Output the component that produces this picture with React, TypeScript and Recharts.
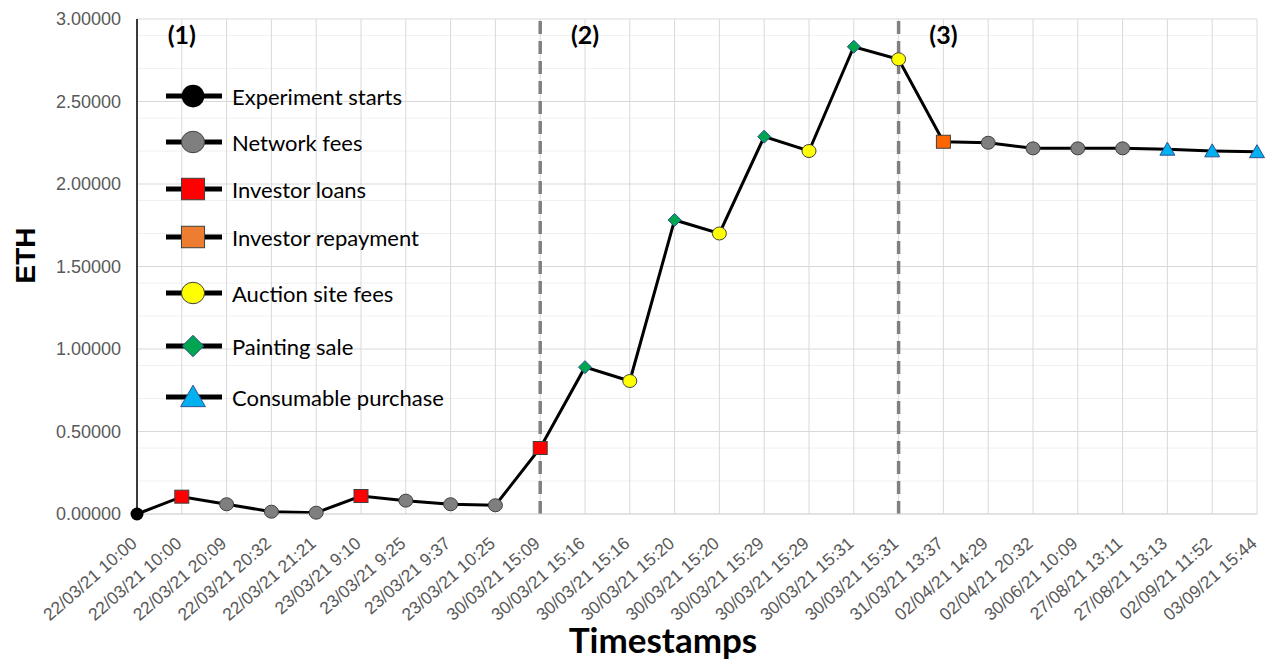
import {
  CartesianGrid,
  Legend,
  Line,
  LineChart,
  ReferenceDot,
  ReferenceLine,
  XAxis,
  YAxis,
} from "recharts";

const timestamps = [
  "22/03/21 10:00",
  "22/03/21 10:00",
  "22/03/21 20:09",
  "22/03/21 20:32",
  "22/03/21 21:21",
  "23/03/21 9:10",
  "23/03/21 9:25",
  "23/03/21 9:37",
  "23/03/21 10:25",
  "30/03/21 15:09",
  "30/03/21 15:16",
  "30/03/21 15:16",
  "30/03/21 15:20",
  "30/03/21 15:20",
  "30/03/21 15:29",
  "30/03/21 15:29",
  "30/03/21 15:31",
  "30/03/21 15:31",
  "31/03/21 13:37",
  "02/04/21 14:29",
  "02/04/21 20:32",
  "30/06/21 10:09",
  "27/08/21 13:11",
  "27/08/21 13:13",
  "02/09/21 11:52",
  "03/09/21 15:44",
];

const ethBalance = [
  0, 0.105, 0.059, 0.014, 0.008, 0.109, 0.081, 0.059, 0.053, 0.4, 0.89, 0.806,
  1.782, 1.7, 2.287, 2.2, 2.832, 2.756, 2.256, 2.25, 2.216, 2.216, 2.216, 2.21,
  2.2, 2.195,
];

const eventTypes = [
  "start", "loan", "fee", "fee", "fee", "loan", "fee", "fee", "fee", "loan",
  "sale", "auction", "sale", "auction", "sale", "auction", "sale", "auction",
  "repay", "fee", "fee", "fee", "fee", "consume", "consume", "consume",
];

const legendItems = [
  { key: "start", label: "Experiment starts" },
  { key: "fee", label: "Network fees" },
  { key: "loan", label: "Investor loans" },
  { key: "repay", label: "Investor repayment" },
  { key: "auction", label: "Auction site fees" },
  { key: "sale", label: "Painting sale" },
  { key: "consume", label: "Consumable purchase" },
];

const phaseBoundaries = [9, 17];
const phaseLabels = [
  { idx: 1, text: "(1)" },
  { idx: 10, text: "(2)" },
  { idx: 18, text: "(3)" },
];

const yTicks = [0, 0.5, 1, 1.5, 2, 2.5, 3];
const yMinor = [0.1, 0.2, 0.3, 0.4, 0.6, 0.7, 0.8, 0.9, 1.1, 1.2, 1.3, 1.4, 1.6, 1.7, 1.8, 1.9, 2.1, 2.2, 2.3, 2.4, 2.6, 2.7, 2.8, 2.9];

const data = ethBalance.map((v, i) => ({ idx: i, eth: v, type: eventTypes[i] }));
const xTicks = timestamps.map((_, i) => i);

const LABEL_FONT = "Lato, 'Open Sans', sans-serif";
const AXIS_FONT = "'Liberation Sans', Arial, sans-serif";
const EDGE = "#404040";
// vertical centre of each legend row (px from chart top)
const LEGEND_ROW_Y = [96, 142, 189, 237, 293, 346, 397];

// s = 1 for plot markers, bigger for the legend
function Marker({ type, cx, cy, s }: { type: string; cx: number; cy: number; s: number }) {
  switch (type) {
    case "start":
      return <circle cx={cx} cy={cy} r={6.5 * s} fill="#000" />;
    case "fee":
      return <ellipse cx={cx} cy={cy} rx={7 * s} ry={6.5 * s} fill="#7f7f7f" stroke={EDGE} strokeWidth={1} />;
    case "auction":
      return <ellipse cx={cx} cy={cy} rx={7 * s} ry={6.5 * s} fill="#ffff00" stroke={EDGE} strokeWidth={1} />;
    case "loan":
      return <rect x={cx - 7 * s} y={cy - 6.5 * s} width={14 * s} height={13 * s} fill="#ff0000" stroke={EDGE} strokeWidth={1} />;
    case "repay":
      return (
        <rect
          x={cx - 7 * s}
          y={cy - 6.5 * s}
          width={14 * s}
          height={13 * s}
          fill={s > 1 ? "#ed7d31" : "#ff6600"}
          stroke={EDGE}
          strokeWidth={1}
        />
      );
    case "sale": {
      const r = 6.5 * s;
      return (
        <polygon
          points={`${cx},${cy - r} ${cx + r},${cy} ${cx},${cy + r} ${cx - r},${cy}`}
          fill="#00a550"
          stroke="#2f528f"
          strokeWidth={1}
        />
      );
    }
    case "consume": {
      const w = 7.5 * s;
      const h = 13 * s;
      return (
        <polygon
          points={`${cx},${cy - h * 0.55} ${cx + w},${cy + h * 0.45} ${cx - w},${cy + h * 0.45}`}
          fill="#00b0f0"
          stroke="#2f528f"
          strokeWidth={1}
        />
      );
    }
    default:
      return null;
  }
}

function renderDot(props: any) {
  const { cx, cy, index, payload } = props;
  return (
    <g key={`dot-${index}`}>
      <Marker type={payload.type} cx={cx} cy={cy} s={1} />
    </g>
  );
}

function XTick(props: any) {
  const { x, y, payload } = props;
  const label = timestamps[payload.value] ?? "";
  return (
    <g transform={`translate(${x + 1},${y + 23})`}>
      <text
        transform="rotate(-41)"
        textAnchor="end"
        fontSize={17.5}
        fontFamily={AXIS_FONT}
        fill="#595959"
      >
        {label}
      </text>
    </g>
  );
}

function renderLegend() {
  return (
    <div style={{ position: "relative", fontFamily: LABEL_FONT, width: 320, height: 420 }}>
      {legendItems.map((item, i) => (
        <div
          key={item.key}
          style={{
            position: "absolute",
            left: 0,
            top: LEGEND_ROW_Y[i] - 15,
            height: 30,
            display: "flex",
            alignItems: "center",
          }}
        >
          <svg width={56} height={30} style={{ display: "block" }}>
            <line x1={0} y1={15} x2={56} y2={15} stroke="#000" strokeWidth={5} />
            <Marker type={item.key} cx={27} cy={15} s={item.key === "start" ? 1.75 : 1.65} />
          </svg>
          <span style={{ marginLeft: 10, fontSize: 22, color: "#000", whiteSpace: "nowrap" }}>
            {item.label}
          </span>
        </div>
      ))}
    </div>
  );
}

export default function App() {
  return (
    <div style={{ position: "absolute", left: 0, top: 0, width: 1270, height: 664, background: "#fff" }}>
      <LineChart width={1270} height={664} data={data} margin={{ top: 19, right: 13, left: 0, bottom: 0 }}>
        <CartesianGrid horizontalValues={yMinor} vertical={false} stroke="#f0f0f0" strokeWidth={1} />
        <CartesianGrid stroke="#d9d9d9" strokeWidth={1} />
        <XAxis
          dataKey="idx"
          type="number"
          domain={[0, 25]}
          ticks={xTicks}
          interval={0}
          height={150}
          tick={<XTick />}
          tickLine={false}
          axisLine={{ stroke: "#d9d9d9" }}
          label={{
            content: (p: any) => {
              const vb = p.viewBox;
              return (
                <text
                  x={vb.x + vb.width / 2 - 34}
                  y={vb.y + 139}
                  textAnchor="middle"
                  fontFamily={LABEL_FONT}
                  fontWeight="bold"
                  fontSize={35}
                  fill="#000"
                >
                  Timestamps
                </text>
              );
            },
          }}
        />
        <YAxis
          type="number"
          domain={[0, 3]}
          ticks={yTicks}
          width={137}
          tickFormatter={(v: number) => v.toFixed(5)}
          tick={{ fontSize: 18, fill: "#595959", fontFamily: AXIS_FONT }}
          tickSize={0}
          tickMargin={16}
          axisLine={{ stroke: "#000", strokeWidth: 1.5 }}
          label={{
            content: (p: any) => {
              const vb = p.viewBox;
              const cx = 25;
              const cy = vb.y + vb.height / 2 - 11;
              return (
                <text
                  x={cx}
                  y={cy}
                  transform={`rotate(-90, ${cx}, ${cy})`}
                  textAnchor="middle"
                  dominantBaseline="central"
                  fontFamily={AXIS_FONT}
                  fontWeight="bold"
                  fontSize={28}
                  fill="#000"
                >
                  ETH
                </text>
              );
            },
          }}
        />
        {phaseBoundaries.map((b) => (
          <ReferenceLine key={b} x={b} stroke="#808080" strokeWidth={3.5} strokeDasharray="13 7" />
        ))}
        {phaseLabels.map((p) => (
          <ReferenceDot
            key={p.text}
            x={p.idx}
            y={2.9}
            r={0}
            fill="none"
            stroke="none"
            label={{
              value: p.text,
              position: "center",
              fontFamily: LABEL_FONT,
              fontWeight: "bold",
              fontSize: 25,
              fill: "#000",
            }}
          />
        ))}
        <Line
          dataKey="eth"
          type="linear"
          stroke="#000"
          strokeWidth={3}
          dot={renderDot}
          activeDot={false}
          isAnimationActive={false}
        />
        <Legend
          layout="horizontal"
          verticalAlign="middle"
          align="center"
          content={renderLegend}
          wrapperStyle={{ left: 166, top: 0, width: 320 }}
        />
      </LineChart>
    </div>
  );
}
